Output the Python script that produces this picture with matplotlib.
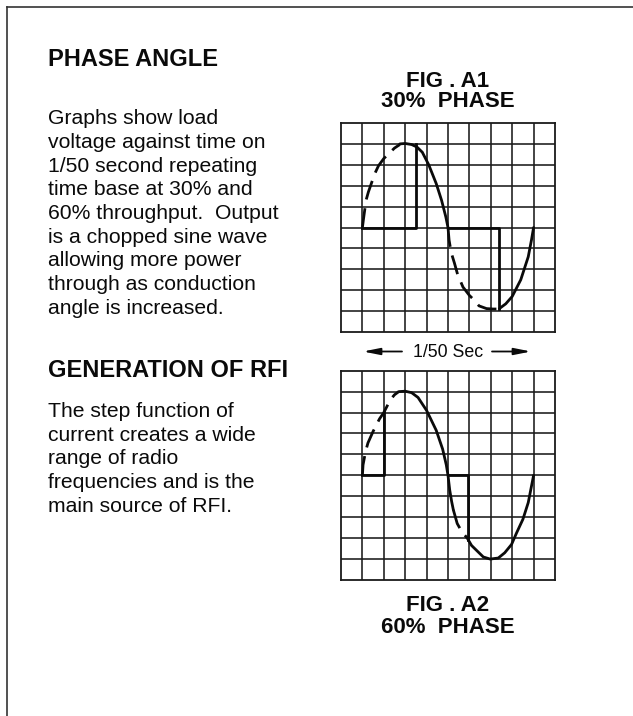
import matplotlib
matplotlib.use("Agg")
import matplotlib.pyplot as plt

# ---------------- data ----------------
heading1 = "PHASE ANGLE"
body1 = ["Graphs show load", "voltage against time on", "1/50 second repeating",
         "time base at 30% and", "60% throughput.  Output", "is a chopped sine wave",
         "allowing more power", "through as conduction", "angle is increased."]
heading2 = "GENERATION OF RFI"
body2 = ["The step function of", "current creates a wide", "range of radio",
         "frequencies and is the", "main source of RFI."]
fig1_title = ["FIG . A1", "30%  PHASE"]
fig2_title = ["FIG . A2", "60%  PHASE"]
timebase_label = "1/50 Sec"

# Fig A1 (30% phase) waveform (grid units)
a1_dash_pos_x = [1.0, 1.05, 1.17, 1.28, 1.45, 1.59, 1.75, 2.0, 2.3, 2.5, 2.75]
a1_dash_pos_y = [0.0, 0.4, 1.3, 1.7, 2.2, 2.6, 2.95, 3.3, 3.6, 3.8, 3.97]
a1_solid_pos_x = [2.75, 3.0, 3.3, 3.55, 3.8, 4.1, 4.45, 4.7, 4.9, 5.0]
a1_solid_pos_y = [4.0, 4.02, 3.97, 3.85, 3.6, 3.0, 2.1, 1.3, 0.5, 0.0]
a1_dash_neg_x = [5.0, 5.05, 5.15, 5.3, 5.45, 5.7, 6.0, 6.2, 6.45, 6.8, 7.1, 7.4]
a1_dash_neg_y = [0.0, -0.6, -1.2, -1.7, -2.25, -2.85, -3.25, -3.45, -3.75, -3.88, -3.9, -3.9]
a1_solid_neg_x = [7.4, 7.7, 8.0, 8.4, 8.75, 8.9, 9.0]
a1_solid_neg_y = [-3.88, -3.65, -3.3, -2.5, -1.4, -0.6, 0.0]
a1_chop_x = [3.5, 7.4]
a1_chop_top = [4.0, -3.9]
a1_zero_start = [1.0, 5.0]

# Fig A2 (60% phase)
a2_dash_pos_x = [1.0, 1.03, 1.15, 1.26, 1.5, 1.8, 2.0, 2.3, 2.5, 2.7]
a2_dash_pos_y = [0.0, 0.5, 1.15, 1.55, 2.1, 2.7, 3.0, 3.6, 3.85, 4.0]
a2_solid_pos_x = [2.7, 3.0, 3.3, 3.6, 4.0, 4.45, 4.75, 4.92, 5.0, 5.08, 5.17, 5.25]
a2_solid_pos_y = [4.0, 4.02, 3.95, 3.72, 3.1, 2.15, 1.25, 0.5, 0.0, -0.7, -1.25, -1.65]
a2_dash_neg_x = [5.25, 5.43, 5.65, 5.9]
a2_dash_neg_y = [-1.65, -2.3, -2.7, -3.0]
a2_solid_neg_x = [5.9, 6.1, 6.35, 6.65, 6.97, 7.35, 7.65, 7.97, 8.2, 8.5, 8.75, 9.0]
a2_solid_neg_y = [-3.0, -3.35, -3.6, -3.9, -4.0, -3.95, -3.7, -3.3, -2.76, -2.1, -1.3, 0.0]
a2_chop_x = [2.0, 5.92]
a2_chop_top = [3.05, -3.1]
a2_zero_start = [1.0, 5.0]

# ---------------- figure ----------------
W, H = 633, 716
fig = plt.figure(figsize=(W / 100, H / 100), dpi=100)
bg = fig.add_axes([0, 0, 1, 1])
bg.set_xlim(0, W)
bg.set_ylim(H, 0)
bg.axis("off")

FONT = "Liberation Sans"
INK = "#0a0a0a"

# frame
bg.plot([7, W], [6.5, 6.5], color="#333333", lw=1.2)
bg.plot([7, 7], [6.5, H], color="#333333", lw=1.2)

# left column text
tx = 48.5
bg.text(tx, 66, heading1, fontsize=17, fontweight="bold", family=FONT, color=INK, va="baseline")
for i, line in enumerate(body1):
    bg.text(tx, 124.3 + 23.7 * i, line, fontsize=15.2, family=FONT, color=INK, va="baseline")
bg.text(tx, 376.7, heading2, fontsize=17, fontweight="bold", family=FONT, color=INK, va="baseline")
for i, line in enumerate(body2):
    bg.text(tx, 417 + 23.7 * i, line, fontsize=15.2, family=FONT, color=INK, va="baseline")

# figure titles
cx = 448
bg.text(cx, 86.7, fig1_title[0], fontsize=16, fontweight="bold", family=FONT, color=INK, ha="center", va="baseline")
bg.text(cx, 106.7, fig1_title[1], fontsize=16, fontweight="bold", family=FONT, color=INK, ha="center", va="baseline")
bg.text(cx, 611, fig2_title[0], fontsize=16, fontweight="bold", family=FONT, color=INK, ha="center", va="baseline")
bg.text(cx, 633, fig2_title[1], fontsize=16, fontweight="bold", family=FONT, color=INK, ha="center", va="baseline")

# time base label with arrows
bg.text(cx, 356.7, timebase_label, fontsize=12.8, family=FONT, color=INK, ha="center", va="baseline")
arrow_kw = dict(arrowstyle="-|>,head_length=1.0,head_width=0.2", color=INK, lw=1.3,
                shrinkA=0, shrinkB=0)
bg.annotate("", xy=(363, 351.5), xytext=(402, 351.5), arrowprops=arrow_kw)
bg.annotate("", xy=(531, 351.5), xytext=(492, 351.5), arrowprops=arrow_kw)


def scope(rect_px, parts):
    x0, y0, x1, y1 = rect_px
    ax = fig.add_axes([x0 / W, 1 - y1 / H, (x1 - x0) / W, (y1 - y0) / H])
    ax.set_xlim(0, 10)
    ax.set_ylim(-5, 5)
    ax.set_xticks([])
    ax.set_yticks([])
    for s in ax.spines.values():
        s.set_linewidth(1.3)
        s.set_color("#1a1a1a")
    for k in range(1, 10):
        ax.axvline(k, color="#1a1a1a", lw=1.15, zorder=1)
        ax.axhline(k - 5, color="#1a1a1a", lw=1.15, zorder=1)
    (dpx, dpy, spx, spy, dnx, dny, snx, sny, chop_x, chop_top, zstart) = parts
    lw = 2.0
    dash = (0, (7.0, 3.2))
    ax.plot(dpx, dpy, color=INK, lw=lw, ls=dash, zorder=3)
    ax.plot(spx, spy, color=INK, lw=lw, zorder=3, solid_capstyle="round")
    ax.plot(dnx, dny, color=INK, lw=lw, ls=dash, zorder=3)
    ax.plot(snx, sny, color=INK, lw=lw, zorder=3, solid_capstyle="round")
    for cxp, top, zs in zip(chop_x, chop_top, zstart):
        ax.plot([zs, cxp, cxp], [0, 0, top], color=INK, lw=lw, zorder=3)
    return ax


scope((341, 123, 555, 332),
      (a1_dash_pos_x, a1_dash_pos_y, a1_solid_pos_x, a1_solid_pos_y,
       a1_dash_neg_x, a1_dash_neg_y, a1_solid_neg_x, a1_solid_neg_y,
       a1_chop_x, a1_chop_top, a1_zero_start))
scope((341, 370.7, 555, 580),
      (a2_dash_pos_x, a2_dash_pos_y, a2_solid_pos_x, a2_solid_pos_y,
       a2_dash_neg_x, a2_dash_neg_y, a2_solid_neg_x, a2_solid_neg_y,
       a2_chop_x, a2_chop_top, a2_zero_start))

fig.savefig("out.png", dpi=100, facecolor="white")
